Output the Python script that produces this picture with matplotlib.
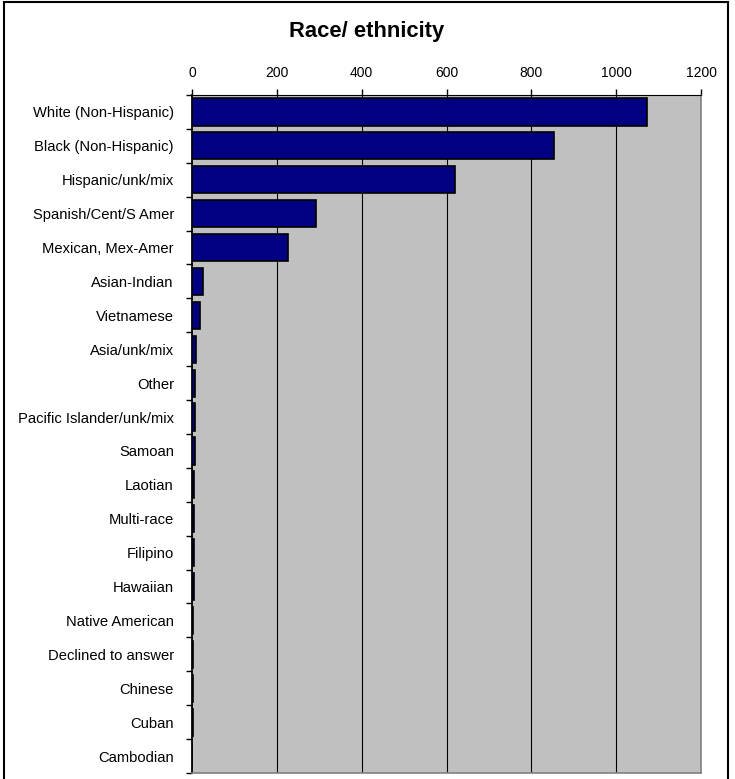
import matplotlib
matplotlib.use("Agg")
import matplotlib.pyplot as plt
from matplotlib.patches import Rectangle

categories = ["White (Non-Hispanic)", "Black (Non-Hispanic)", "Hispanic/unk/mix",
              "Spanish/Cent/S Amer", "Mexican, Mex-Amer", "Asian-Indian", "Vietnamese",
              "Asia/unk/mix", "Other", "Pacific Islander/unk/mix", "Samoan", "Laotian",
              "Multi-race", "Filipino", "Hawaiian", "Native American", "Declined to answer",
              "Chinese", "Cuban", "Cambodian"]
values = [1073, 853, 619, 292, 227, 25, 19, 9, 8, 6, 6, 5, 5, 4, 4, 3, 2, 2, 2, 1]
xticks = [0, 200, 400, 600, 800, 1000, 1200]
title = "Race/ ethnicity"

plt.rcParams['font.family'] = ['Liberation Sans', 'DejaVu Sans']

W, H = 735, 779
fig = plt.figure(figsize=(W / 100, H / 100), dpi=100)
fig.patch.set_facecolor("white")

left, right, top, bottom = 192, 701, 95, 773
ax = fig.add_axes([left / W, 1 - bottom / H, (right - left) / W, (bottom - top) / H])
ax.set_facecolor("#C0C0C0")

y = list(range(len(categories)))
ax.barh(y, values, height=0.8, color="#000080", edgecolor="black", linewidth=1.2, zorder=3)
ax.set_ylim(len(categories) - 0.5, -0.5)
ax.set_xlim(0, 1200)

ax.set_yticks([i + 0.5 for i in range(-1, len(categories))])
ax.set_yticklabels([])
ax.set_yticks(y, minor=True)
ax.set_yticklabels(categories, minor=True, fontsize=10.6)
ax.tick_params(axis="y", which="minor", length=0, pad=13)
ax.tick_params(axis="y", which="major", length=4, direction="out", width=1)

ax.xaxis.tick_top()
ax.set_xticks(xticks)
ax.set_xticklabels([str(t) for t in xticks], fontsize=10)
ax.tick_params(axis="x", length=4, direction="out", width=1, pad=7)

for t in xticks[1:-1]:
    ax.axvline(t, color="black", linewidth=0.8, zorder=1)

ax.spines["left"].set_color("black")
ax.spines["left"].set_linewidth(1.3)
ax.spines["top"].set_color("black")
ax.spines["top"].set_linewidth(0.8)
ax.spines["right"].set_color("#808080")
ax.spines["right"].set_linewidth(1.2)
ax.spines["bottom"].set_color("#808080")
ax.spines["bottom"].set_linewidth(1.2)

fig.text(367 / W, 1 - 31 / H, title, ha="center", va="center", fontsize=15.8, fontweight="bold")

frame = Rectangle((4 / W, -0.01), (728 - 4) / W, 1 - 2 / H + 0.01, transform=fig.transFigure,
                  fill=False, edgecolor="black", linewidth=1.5)
fig.patches.append(frame)

fig.savefig("out.png", dpi=100)
